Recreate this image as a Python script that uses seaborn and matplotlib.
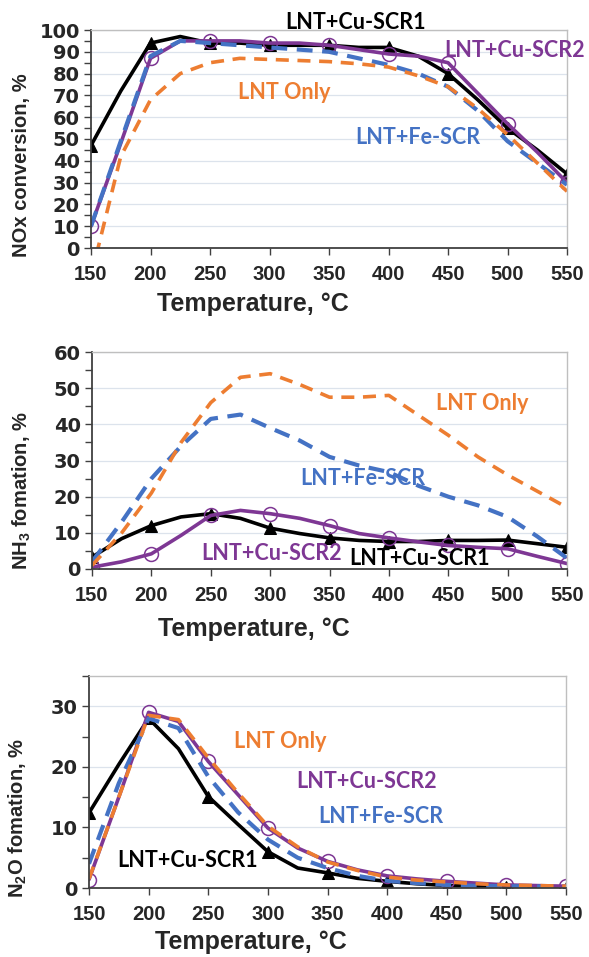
import numpy as np
import pandas as pd
import matplotlib
matplotlib.use('Agg')
import matplotlib.pyplot as plt
import seaborn as sns

# ==========================
# Data (25 degC steps, markers at the 50 degC points)
# ==========================
temps = [150, 175, 200, 225, 250, 275, 300, 325, 350, 375, 400, 425, 450, 475, 500, 525, 550]

series_names = ["LNT+Cu-SCR1", "LNT+Cu-SCR2", "LNT+Fe-SCR", "LNT Only"]

nox_cu1 = [47, 72, 94, 97, 94, 94, 93, 93, 93, 92, 92, 88, 80, 68, 55, 45, 34]
nox_cu2 = [10, 48, 87, 95, 95, 95, 94, 94, 93, 91, 89, 88, 85, 71, 57, 44, 30]
nox_fe = [10, 49, 88, 95, 94, 93, 92, 91, 90, 87, 84, 80, 74, 63, 49, 39, 29]
nox_lnt = [-13, 42, 68, 80, 85, 87, 86.5, 86, 85.5, 84.5, 83, 79, 74, 64, 52, 39, 26]

nh3_cu1 = [3.3, 8.4, 12, 14.4, 15.3, 14, 11.3, 9.8, 8.6, 7.9, 7.6, 7.6, 7.9, 7.9, 8, 7, 6]
nh3_cu2 = [0.5, 2, 4.2, 9.3, 14.8, 16.2, 15.3, 14, 12, 9.8, 8.6, 7.5, 6.5, 6, 5.6, 3.5, 1.5]
nh3_fe = [2, 13, 25, 34, 41.5, 42.7, 39, 35.5, 31, 28.6, 26.8, 23, 20, 17.6, 14.4, 9, 3]
nh3_lnt = [1, 10, 21, 35, 46, 53, 54, 51, 47.5, 47.5, 48, 42.5, 37, 31, 26, 21.5, 17]

n2o_cu1 = [12.4, 20.4, 28, 23, 15.1, 10.5, 6, 3.3, 2.5, 1.6, 1.1, 0.7, 0.4, 0.3, 0.2, 0.1, 0]
n2o_cu2 = [1.4, 15, 29, 27.5, 20.9, 15.4, 9.9, 6.6, 4.4, 3, 2, 1.5, 1.1, 0.8, 0.5, 0.4, 0.3]
n2o_fe = [4, 17.3, 28, 26.4, 18.4, 12.5, 8, 5, 3.3, 2, 1.2, 0.8, 0.5, 0.35, 0.3, 0.25, 0.2]
n2o_lnt = [1.5, 15, 28.5, 27.8, 21.5, 15.7, 10.2, 6.8, 4.3, 2.9, 1.8, 1.3, 1.0, 0.7, 0.5, 0.4, 0.3]

xticks = [150, 200, 250, 300, 350, 400, 450, 500, 550]

# ==========================
# Styles
# ==========================
colors = {"LNT+Cu-SCR1": "black", "LNT+Cu-SCR2": "#7E3794",
          "LNT+Fe-SCR": "#4472C4", "LNT Only": "#ED7D31"}
label_font = dict(family="Lato", weight="bold", size=15.5)

sns.set_style("white")
plt.rcParams['font.family'] = ['Liberation Sans', 'DejaVu Sans']
plt.rcParams['mathtext.fontset'] = 'custom'
plt.rcParams['mathtext.bf'] = 'Liberation Sans:bold'
plt.rcParams['mathtext.rm'] = 'Liberation Sans:bold'


def draw_lines(ax, cu1, cu2, fe, lnt):
    sns.lineplot(x=temps, y=cu1, ax=ax, color=colors["LNT+Cu-SCR1"], lw=2.6,
                 marker='^', markersize=9, markevery=2, markeredgecolor='black')
    sns.lineplot(x=temps, y=cu2, ax=ax, color=colors["LNT+Cu-SCR2"], lw=2.6,
                 marker='o', markersize=10, markevery=2, markerfacecolor='none',
                 markeredgecolor=colors["LNT+Cu-SCR2"], markeredgewidth=1.1)
    sns.lineplot(x=temps, y=fe, ax=ax, color=colors["LNT+Fe-SCR"], lw=3.0,
                 linestyle=(0, (3.8, 2.3)))
    sns.lineplot(x=temps, y=lnt, ax=ax, color=colors["LNT Only"], lw=2.6,
                 linestyle=(0, (3.6, 2.4)))


def style_axes(ax, ymax, ystep, ylabel, ylab_y, xlab_y, yticks=None):
    ax.set_xlim(150, 550)
    ax.set_ylim(0, ymax)
    ax.set_xticks(xticks)
    if yticks is None:
        yticks = np.arange(0, ymax + 0.1, ystep)
    ax.set_yticks(yticks)
    ax.set_yticks(np.arange(0, ymax + 0.1, ystep / 2), minor=True)
    ax.yaxis.grid(True, color='#DCE3EC', lw=0.9)
    ax.set_axisbelow(True)
    for s in ['top', 'right']:
        ax.spines[s].set_color('#BFBFBF')
        ax.spines[s].set_linewidth(1.0)
    for s in ['left', 'bottom']:
        ax.spines[s].set_color('#404040')
        ax.spines[s].set_linewidth(1.3)
    ax.tick_params(axis='both', which='both', direction='out', color='#404040',
                   left=True, bottom=True, length=5, width=1)
    ax.tick_params(axis='x', labelsize=14.5, pad=7)
    ax.tick_params(axis='y', labelsize=14, pad=3)
    for t in ax.get_xticklabels():
        t.set_fontweight('bold')
    for t in ax.get_yticklabels():
        t.set_fontweight('bold')
        t.set_family('DejaVu Sans')
    ax.set_xlabel('Temperature, °C', fontsize=18, fontweight='bold')
    ax.set_ylabel(ylabel, fontsize=14.5, fontweight='bold')
    ax.xaxis.set_label_coords(0.34, xlab_y)
    ax.yaxis.set_label_coords(-0.125, ylab_y)


def add_labels(ax, positions):
    for name, (x, y) in positions.items():
        ax.text(x, y, name, color=colors[name], ha='center', va='center',
                clip_on=False, **label_font)


fig = plt.figure(figsize=(5.89, 9.57), dpi=100)
W, H = 589, 957


def make_axes(left, right, top, bottom):
    return fig.add_axes([left / W, 1 - bottom / H, (right - left) / W, (bottom - top) / H])


ax1 = make_axes(91, 567, 30, 248)
ax2 = make_axes(92, 567, 352, 569)
ax3 = make_axes(89, 566, 676, 888)

# NOx conversion
draw_lines(ax1, nox_cu1, nox_cu2, nox_fe, nox_lnt)
style_axes(ax1, 100, 10, 'NOx conversion, %', 0.38, -0.2)
add_labels(ax1, {"LNT+Cu-SCR1": (372, 103.5), "LNT+Cu-SCR2": (506, 90.5),
                 "LNT Only": (312, 71.5), "LNT+Fe-SCR": (425, 50.5)})

# NH3 formation
draw_lines(ax2, nh3_cu1, nh3_cu2, nh3_fe, nh3_lnt)
style_axes(ax2, 60, 10, 'NH$_\\mathbf{3}$ fomation, %', 0.36, -0.22)
add_labels(ax2, {"LNT Only": (479, 45.7), "LNT+Fe-SCR": (378, 25),
                 "LNT+Cu-SCR2": (301, 4.3), "LNT+Cu-SCR1": (426, 2.9)})

# N2O formation
draw_lines(ax3, n2o_cu1, n2o_cu2, n2o_fe, n2o_lnt)
style_axes(ax3, 35, 10, 'N$_\\mathbf{2}$O fomation, %', 0.33, -0.2,
           yticks=[0, 10, 20, 30])
add_labels(ax3, {"LNT Only": (310, 24.2), "LNT+Cu-SCR2": (383, 17.6),
                 "LNT+Fe-SCR": (395, 11.8), "LNT+Cu-SCR1": (233, 4.6)})

for ax in (ax1, ax2, ax3):
    leg = ax.get_legend()
    if leg is not None:
        leg.remove()

fig.savefig('out.png', dpi=100)
